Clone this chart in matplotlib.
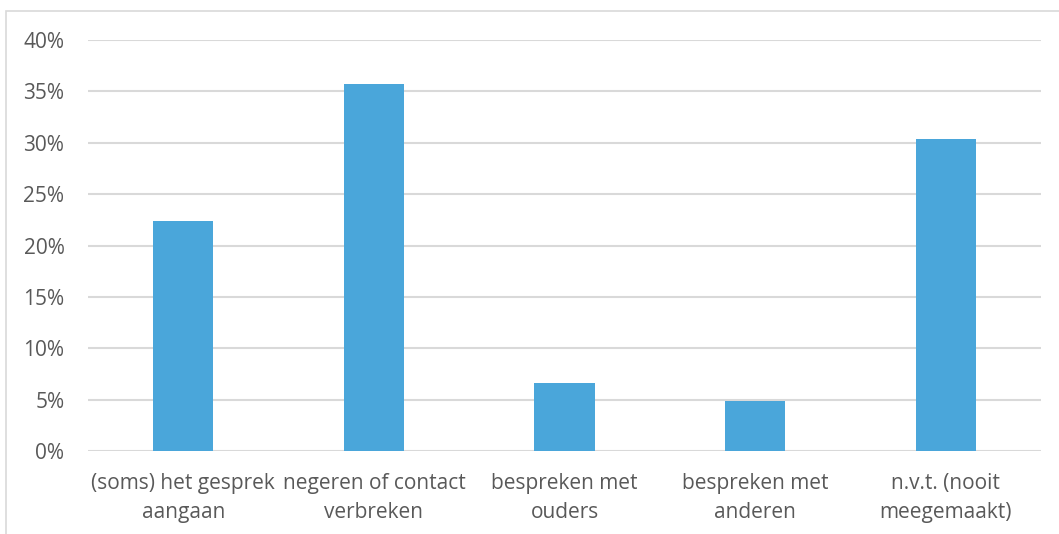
import matplotlib
matplotlib.use('Agg')
from matplotlib import pyplot as plt
import matplotlib.patches as mpatches
from matplotlib.ticker import FuncFormatter

categories = ['(soms) het gesprek\naangaan', 'negeren of contact\nverbreken',
              'bespreken met\nouders', 'bespreken met\nanderen', 'n.v.t. (nooit\nmeegemaakt)']
values = [22.4, 35.7, 6.6, 4.9, 30.4]
y_ticks = [0, 5, 10, 15, 20, 25, 30, 35, 40]

plt.rcParams['font.family'] = ['Open Sans', 'DejaVu Sans']
text_color = '#595959'
grid_color = '#d9d9d9'

W, H = 1059, 534
fig = plt.figure(figsize=(W / 100, H / 100), dpi=100)
ax = fig.add_axes([88 / W, 1 - 451 / H, (1041 - 88) / W, (451 - 40) / H])

x = range(len(categories))
ax.bar(x, values, width=0.315, color='#4aa6da', zorder=3)

ax.set_xlim(-0.5, len(categories) - 0.5)
ax.set_ylim(0, 40)
ax.set_yticks(y_ticks)
ax.yaxis.set_major_formatter(FuncFormatter(lambda v, p: '%d%%' % v))
ax.set_xticks(list(x))
ax.set_xticklabels(categories, fontsize=15, color=text_color, linespacing=1.5)
ax.tick_params(axis='y', labelsize=15, labelcolor=text_color, length=0, pad=17)
ax.tick_params(axis='x', length=0, pad=16)
ax.grid(axis='y', color=grid_color, linewidth=1.5, zorder=0)
for s in ax.spines.values():
    s.set_visible(False)

# outer chart border (only top/left visible in the crop)
border = mpatches.Rectangle((6 / W, -0.2), 1.5, 1 - 11 / H + 0.2, transform=fig.transFigure,
                            fill=False, edgecolor=grid_color, linewidth=1.2)
fig.patches.append(border)

fig.savefig('out.png', dpi=100)
